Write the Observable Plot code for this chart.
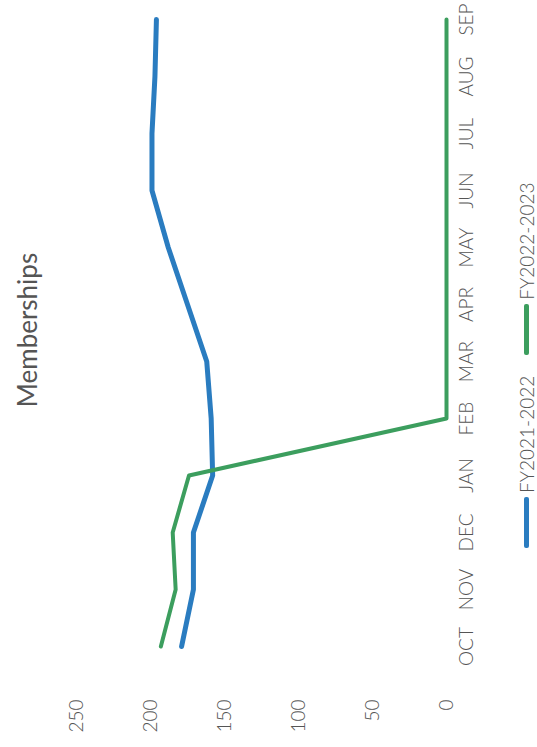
<!DOCTYPE html>
<html>
<head>
<meta charset="utf-8">
<script src="https://cdn.jsdelivr.net/npm/d3@7"></script>
<script src="https://cdn.jsdelivr.net/npm/@observablehq/plot@0.6"></script>
<style>
  html, body { margin: 0; padding: 0; background: #fff; overflow: hidden; }
  /* The chart is laid out landscape, then turned a quarter turn counter-clockwise. */
  #chart {
    position: absolute; left: 0; top: 0;
    width: 747px; height: 537px;
    transform-origin: 0 0;
    transform: translate(0, 747px) rotate(-90deg);
    font-family: Lato, "Open Sans", sans-serif;
    font-weight: 300;
    color: #555;
    background: #fff;
  }
  #title {
    height: 45px; padding-top: 13px;
    padding-left: 105px; padding-right: 18px;
    box-sizing: content-box;
    line-height: 28px; font-size: 26px; font-weight: 400;
    text-align: center; white-space: nowrap;
  }
  #chart svg { display: block; }
  #legend {
    height: 22px; padding-top: 15px; padding-left: 199px;
    display: flex; align-items: center;
    font-size: 19px; white-space: nowrap;
  }
  .item { display: flex; align-items: center; margin-right: 21px; }
  .swatch { width: 51px; height: 5px; border-radius: 2px; margin-right: 4px; }
</style>
</head>
<body>
<div id="chart"></div>
<script>
const months = ["OCT", "NOV", "DEC", "JAN", "FEB", "MAR", "APR", "MAY", "JUN", "JUL", "AUG", "SEP"];
const fy2122 = [179, 171, 171, 158, 159, 162, 175, 188, 199, 199, 197, 196];
const fy2223 = [193, 183, 185, 174, 0, 0, 0, 0, 0, 0, 0, 0];
const seriesNames = ["FY2021-2022", "FY2022-2023"];
const seriesColors = ["#2a7cc0", "#3c9e5e"];
const seriesWidths = [5, 4];
const valueTicks = [0, 50, 100, 150, 200, 250];
const titleText = "Memberships";

const seriesValues = [fy2122, fy2223];
const rows = seriesNames.flatMap((name, i) =>
  months.map((m, j) => ({series: name, month: m, value: seriesValues[i][j]}))
);

const chart = document.getElementById("chart");

const title = document.createElement("div");
title.id = "title";
title.textContent = titleText;
chart.appendChild(title);

const plot = Plot.plot({
  width: 747,
  height: 442,
  marginTop: 18,
  marginBottom: 54,
  marginLeft: 97,
  marginRight: 18,
  style: {fontFamily: "Lato, 'Open Sans', sans-serif", fontWeight: 300, fontSize: "19px", color: "#555", background: "transparent", overflow: "visible"},
  x: {type: "point", domain: months, padding: 0, label: null},
  y: {domain: [0, 250], label: null},
  color: {domain: seriesNames, range: seriesColors},
  marks: [
    Plot.axisX({tickSize: 0, tickPadding: 13, label: null}),
    Plot.axisY({ticks: valueTicks, tickSize: 0, tickPadding: 50, tickFormat: d => String(d), label: null}),
    ...seriesNames.map((name, i) =>
      Plot.line(rows.filter(r => r.series === name), {
        x: "month",
        y: "value",
        stroke: "series",
        strokeWidth: seriesWidths[i],
        strokeLinejoin: "round",
        strokeLinecap: "round"
      })
    )
  ]
});
chart.appendChild(plot);

const legend = document.createElement("div");
legend.id = "legend";
seriesNames.forEach((name, i) => {
  const item = document.createElement("div");
  item.className = "item";
  const sw = document.createElement("span");
  sw.className = "swatch";
  sw.style.background = seriesColors[i];
  const label = document.createElement("span");
  label.textContent = name;
  item.appendChild(sw);
  item.appendChild(label);
  legend.appendChild(item);
});
chart.appendChild(legend);
</script>
</body>
</html>
